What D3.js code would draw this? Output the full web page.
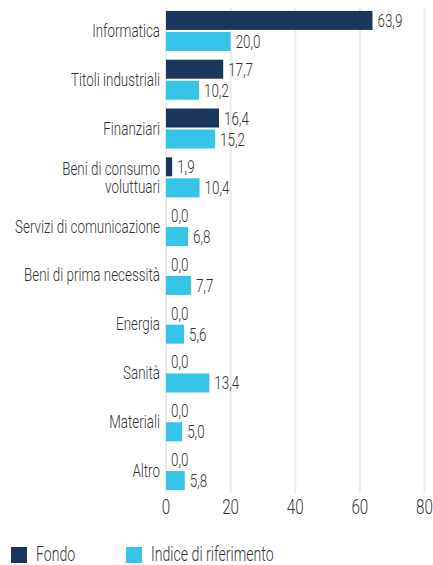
<!DOCTYPE html>
<html>
<head>
<meta charset="utf-8">
<script src="https://cdn.jsdelivr.net/npm/d3@7"></script>
<style>
  html, body { margin: 0; padding: 0; background: #fff; }
  svg { display: block; }
  text { font-family: Roboto, "Liberation Sans", sans-serif; font-weight: 300; fill: #333; }
</style>
</head>
<body>
<svg id="chart" width="433" height="565"></svg>
<script>
// sector weights, fund vs benchmark
const categories = ["Informatica", "Titoli industriali", "Finanziari", "Beni di consumo\nvoluttuari",
  "Servizi di comunicazione", "Beni di prima necessità", "Energia", "Sanità", "Materiali", "Altro"];
const fondo = [63.9, 17.7, 16.4, 1.9, 0.0, 0.0, 0.0, 0.0, 0.0, 0.0];
const indice = [20.0, 10.2, 15.2, 10.4, 6.8, 7.7, 5.6, 13.4, 5.0, 5.8];
const ticks = [0, 20, 40, 60, 80];
const seriesNames = ["Fondo", "Indice di riferimento"];
const colors = ["#1b365d", "#35c4e8"];

const svg = d3.select("#chart");

// the reference face is very condensed: measure the longest label and squeeze to fit
const probe = svg.append("text").attr("font-size", 18.5).text("Servizi di comunicazione");
const SX = 145 / probe.node().getComputedTextLength();
probe.remove();

const x = d3.scaleLinear().domain([0, 80]).range([166, 424.5]);
const y = d3.scaleBand().domain(categories).range([8, 493]).paddingInner(0.14).paddingOuter(0.04);
const bh = 19, gap = 2;

// gridlines
svg.append("g").selectAll("line").data(ticks).join("line")
  .attr("x1", d => x(d)).attr("x2", d => x(d))
  .attr("y1", 8).attr("y2", 493)
  .attr("stroke", "#ebebeb").attr("stroke-width", 2);

// tick labels
svg.append("g").selectAll("text").data(ticks).join("text")
  .attr("transform", d => `translate(${x(d)},514) scale(${SX},1)`)
  .attr("text-anchor", "middle")
  .attr("font-size", 21)
  .text(d => d);

const rows = categories.map((c, i) => ({ c, v: [fondo[i], indice[i]] }));
const barTop = c => y(c) + y.bandwidth() / 2 - bh - gap / 2;

const g = svg.append("g").selectAll("g").data(rows).join("g");

g.selectAll("rect").data(d => d.v.map((v, k) => ({ c: d.c, v, k }))).join("rect")
  .attr("x", x(0))
  .attr("y", d => barTop(d.c) + d.k * (bh + gap))
  .attr("width", d => x(d.v) - x(0))
  .attr("height", bh)
  .attr("fill", d => colors[d.k]);

g.selectAll("text.val").data(d => d.v.map((v, k) => ({ c: d.c, v, k }))).join("text")
  .attr("class", "val")
  .attr("transform", d => `translate(${x(d.v) + 5},${barTop(d.c) + d.k * (bh + gap) + bh / 2 + 6.5}) scale(${SX},1)`)
  .attr("font-size", 18.5)
  .text(d => d.v.toFixed(1).replace(".", ","));

// category labels
g.append("text")
  .attr("transform", d => `translate(160,${y(d.c) + y.bandwidth() / 2 + 6.5}) scale(${SX},1)`)
  .attr("text-anchor", "end")
  .attr("font-size", 18.5)
  .each(function (d) {
    const lines = d.c.split("\n");
    const t = d3.select(this);
    lines.forEach((l, i) => {
      t.append("tspan").attr("x", 0)
        .attr("y", (i - (lines.length - 1) / 2) * 18.5)
        .text(l);
    });
  });

// legend
const lg = svg.append("g").selectAll("g").data(seriesNames).join("g")
  .attr("transform", (d, i) => `translate(${[11, 126][i]},547)`);
lg.append("rect").attr("width", 16).attr("height", 16).attr("fill", (d, i) => colors[i]);
lg.append("text")
  .attr("transform", `translate(25,14) scale(${SX},1)`)
  .attr("font-size", 19.5)
  .text(d => d);
</script>
</body>
</html>
